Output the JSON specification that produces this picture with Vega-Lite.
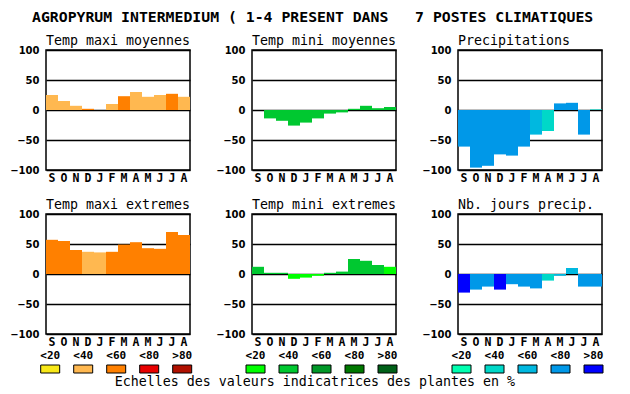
{
"$schema": "https://vega.github.io/schema/vega-lite/v6.json",
"padding": {"left": 8, "top": 10, "right": 5, "bottom": 5},
"background": "white",
"title": {"text": "AGROPYRUM INTERMEDIUM ( 1-4 PRESENT DANS\u00a0\u00a0\u00a07 POSTES CLIMATIQUES", "font": "DejaVu Sans Mono", "fontSize": 14.8, "fontWeight": "bold", "anchor": "start", "frame": "bounds", "dx": 23, "offset": 8},
"datasets": {
"bars": [
{"p":"p1","m":1,"v":25,"c":"<40"},{"p":"p1","m":2,"v":15,"c":"<40"},{"p":"p1","m":3,"v":7,"c":"<40"},{"p":"p1","m":4,"v":2,"c":"<60"},{"p":"p1","m":5,"v":0,"c":"<40"},{"p":"p1","m":6,"v":10,"c":"<40"},{"p":"p1","m":7,"v":23,"c":"<60"},{"p":"p1","m":8,"v":30,"c":"<40"},{"p":"p1","m":9,"v":22,"c":"<40"},{"p":"p1","m":10,"v":25,"c":"<40"},{"p":"p1","m":11,"v":27,"c":"<60"},{"p":"p1","m":12,"v":22,"c":"<40"},
{"p":"p2","m":1,"v":0,"c":"<40"},{"p":"p2","m":2,"v":-14,"c":"<40"},{"p":"p2","m":3,"v":-18,"c":"<40"},{"p":"p2","m":4,"v":-26,"c":"<40"},{"p":"p2","m":5,"v":-21,"c":"<40"},{"p":"p2","m":6,"v":-14,"c":"<40"},{"p":"p2","m":7,"v":-6,"c":"<40"},{"p":"p2","m":8,"v":-4,"c":"<40"},{"p":"p2","m":9,"v":2,"c":"<40"},{"p":"p2","m":10,"v":7,"c":"<40"},{"p":"p2","m":11,"v":3,"c":"<40"},{"p":"p2","m":12,"v":5,"c":"<40"},
{"p":"p3","m":1,"v":-61,"c":"<80"},{"p":"p3","m":2,"v":-96,"c":"<80"},{"p":"p3","m":3,"v":-93,"c":"<80"},{"p":"p3","m":4,"v":-74,"c":"<80"},{"p":"p3","m":5,"v":-76,"c":"<80"},{"p":"p3","m":6,"v":-61,"c":"<80"},{"p":"p3","m":7,"v":-41,"c":"<60"},{"p":"p3","m":8,"v":-35,"c":"<40"},{"p":"p3","m":9,"v":11,"c":"<80"},{"p":"p3","m":10,"v":12,"c":"<80"},{"p":"p3","m":11,"v":-41,"c":"<80"},{"p":"p3","m":12,"v":1,"c":"<40"},
{"p":"p4","m":1,"v":57,"c":"<60"},{"p":"p4","m":2,"v":55,"c":"<60"},{"p":"p4","m":3,"v":40,"c":"<60"},{"p":"p4","m":4,"v":37,"c":"<40"},{"p":"p4","m":5,"v":36,"c":"<40"},{"p":"p4","m":6,"v":37,"c":"<60"},{"p":"p4","m":7,"v":49,"c":"<60"},{"p":"p4","m":8,"v":53,"c":"<60"},{"p":"p4","m":9,"v":43,"c":"<60"},{"p":"p4","m":10,"v":42,"c":"<60"},{"p":"p4","m":11,"v":70,"c":"<60"},{"p":"p4","m":12,"v":65,"c":"<60"},
{"p":"p5","m":1,"v":12,"c":"<40"},{"p":"p5","m":2,"v":2,"c":"<40"},{"p":"p5","m":3,"v":2,"c":"<40"},{"p":"p5","m":4,"v":-8,"c":"<20"},{"p":"p5","m":5,"v":-6,"c":"<20"},{"p":"p5","m":6,"v":-3,"c":"<20"},{"p":"p5","m":7,"v":2,"c":"<40"},{"p":"p5","m":8,"v":4,"c":"<40"},{"p":"p5","m":9,"v":25,"c":"<40"},{"p":"p5","m":10,"v":22,"c":"<40"},{"p":"p5","m":11,"v":15,"c":"<40"},{"p":"p5","m":12,"v":12,"c":"<20"},
{"p":"p6","m":1,"v":-31,"c":">80"},{"p":"p6","m":2,"v":-26,"c":"<80"},{"p":"p6","m":3,"v":-21,"c":"<80"},{"p":"p6","m":4,"v":-26,"c":">80"},{"p":"p6","m":5,"v":-17,"c":"<80"},{"p":"p6","m":6,"v":-21,"c":"<80"},{"p":"p6","m":7,"v":-24,"c":"<80"},{"p":"p6","m":8,"v":-11,"c":"<40"},{"p":"p6","m":9,"v":-3,"c":"<60"},{"p":"p6","m":10,"v":10,"c":"<60"},{"p":"p6","m":11,"v":-21,"c":"<80"},{"p":"p6","m":12,"v":-21,"c":"<80"}
],
"leg": [
{"g":"o","c":"<20"},{"g":"o","c":"<40"},{"g":"o","c":"<60"},{"g":"o","c":"<80"},{"g":"o","c":">80"},
{"g":"g","c":"<20"},{"g":"g","c":"<40"},{"g":"g","c":"<60"},{"g":"g","c":"<80"},{"g":"g","c":">80"},
{"g":"b","c":"<20"},{"g":"b","c":"<40"},{"g":"b","c":"<60"},{"g":"b","c":"<80"},{"g":"b","c":">80"}
]
},
"resolve": {"scale": {"color": "independent", "x": "independent", "y": "independent"}},
"spacing": 11,
"vconcat": [
{"hconcat": [
 {"width":144,"height":120,"title":"Temp maxi moyennes","data":{"name":"bars"},"transform":[{"filter":"datum.p=='p1'"}],"mark":"bar","encoding":{"x":{"field":"m","type":"ordinal","scale":{"paddingInner":0,"paddingOuter":0},"axis":{"labelExpr":"substring('SONDJFMAMJJA',datum.value-1,datum.value)"}},"y":{"field":"v","type":"quantitative","scale":{"domain":[-100,100],"nice":false},"axis":{"values":[-100,-50,0,50,100]}},"color":{"field":"c","type":"nominal","scale":{"domain":["<20","<40","<60","<80",">80"],"range":["#f8e818","#ffb850","#ff8000","#e80000","#b01000"]},"legend":null}}},
 {"width":144,"height":120,"title":"Temp mini moyennes","data":{"name":"bars"},"transform":[{"filter":"datum.p=='p2'"}],"mark":"bar","encoding":{"x":{"field":"m","type":"ordinal","scale":{"paddingInner":0,"paddingOuter":0},"axis":{"labelExpr":"substring('SONDJFMAMJJA',datum.value-1,datum.value)"}},"y":{"field":"v","type":"quantitative","scale":{"domain":[-100,100],"nice":false},"axis":{"values":[-100,-50,0,50,100]}},"color":{"field":"c","type":"nominal","scale":{"domain":["<20","<40","<60","<80",">80"],"range":["#00ff00","#00c830","#009828","#007800","#006018"]},"legend":null}}},
 {"width":144,"height":120,"title":"Precipitations","data":{"name":"bars"},"transform":[{"filter":"datum.p=='p3'"}],"mark":"bar","encoding":{"x":{"field":"m","type":"ordinal","scale":{"paddingInner":0,"paddingOuter":0},"axis":{"labelExpr":"substring('SONDJFMAMJJA',datum.value-1,datum.value)"}},"y":{"field":"v","type":"quantitative","scale":{"domain":[-100,100],"nice":false},"axis":{"values":[-100,-50,0,50,100]}},"color":{"field":"c","type":"nominal","scale":{"domain":["<20","<40","<60","<80",">80"],"range":["#00ffb0","#00d8c8","#00b8e0","#0098e8","#0000ff"]},"legend":null}}}
 ], "spacing": 23, "resolve": {"scale": {"color": "independent", "x": "independent", "y": "independent"}}},
{"vconcat": [
 {"hconcat": [
 {"width":144,"height":120,"title":"Temp maxi extremes","data":{"name":"bars"},"transform":[{"filter":"datum.p=='p4'"}],"mark":"bar","encoding":{"x":{"field":"m","type":"ordinal","scale":{"paddingInner":0,"paddingOuter":0},"axis":{"labelExpr":"substring('SONDJFMAMJJA',datum.value-1,datum.value)"}},"y":{"field":"v","type":"quantitative","scale":{"domain":[-100,100],"nice":false},"axis":{"values":[-100,-50,0,50,100]}},"color":{"field":"c","type":"nominal","scale":{"domain":["<20","<40","<60","<80",">80"],"range":["#f8e818","#ffb850","#ff8000","#e80000","#b01000"]},"legend":null}}},
 {"width":144,"height":120,"title":"Temp mini extremes","data":{"name":"bars"},"transform":[{"filter":"datum.p=='p5'"}],"mark":"bar","encoding":{"x":{"field":"m","type":"ordinal","scale":{"paddingInner":0,"paddingOuter":0},"axis":{"labelExpr":"substring('SONDJFMAMJJA',datum.value-1,datum.value)"}},"y":{"field":"v","type":"quantitative","scale":{"domain":[-100,100],"nice":false},"axis":{"values":[-100,-50,0,50,100]}},"color":{"field":"c","type":"nominal","scale":{"domain":["<20","<40","<60","<80",">80"],"range":["#00ff00","#00c830","#009828","#007800","#006018"]},"legend":null}}},
 {"width":144,"height":120,"title":"Nb. jours precip.","data":{"name":"bars"},"transform":[{"filter":"datum.p=='p6'"}],"mark":"bar","encoding":{"x":{"field":"m","type":"ordinal","scale":{"paddingInner":0,"paddingOuter":0},"axis":{"labelExpr":"substring('SONDJFMAMJJA',datum.value-1,datum.value)"}},"y":{"field":"v","type":"quantitative","scale":{"domain":[-100,100],"nice":false},"axis":{"values":[-100,-50,0,50,100]}},"color":{"field":"c","type":"nominal","scale":{"domain":["<20","<40","<60","<80",">80"],"range":["#00ffb0","#00d8c8","#00b8e0","#0098e8","#0000ff"]},"legend":null}}}
 ], "spacing": 23, "resolve": {"scale": {"color": "independent", "x": "independent", "y": "independent"}}},
 {"hconcat": [
 {"width":152.7,"height":8,"view":{"stroke":null},"data":{"name":"leg"},"transform":[{"filter":"datum.g=='o'"}],"mark":{"type":"bar","width":19,"stroke":"black","strokeWidth":1},"encoding":{"x":{"field":"c","type":"ordinal","scale":{"paddingInner":0,"paddingOuter":0,"range":[-12.3,152.7]},"axis":{"orient":"top","labelPadding":5,"labelFontSize":11}},"color":{"field":"c","type":"nominal","scale":{"domain":["<20","<40","<60","<80",">80"],"range":["#f8e818","#ffb850","#ff8000","#e80000","#b01000"]},"legend":null}}},
 {"hconcat": [
 {"width":165,"height":8,"view":{"stroke":null},"data":{"name":"leg"},"transform":[{"filter":"datum.g=='g'"}],"mark":{"type":"bar","width":19,"stroke":"black","strokeWidth":1},"encoding":{"x":{"field":"c","type":"ordinal","scale":{"paddingInner":0,"paddingOuter":0},"axis":{"orient":"top","labelPadding":5,"labelFontSize":11}},"color":{"field":"c","type":"nominal","scale":{"domain":["<20","<40","<60","<80",">80"],"range":["#00ff00","#00c830","#009828","#007800","#006018"]},"legend":null}}},
 {"width":165,"height":8,"view":{"stroke":null},"data":{"name":"leg"},"transform":[{"filter":"datum.g=='b'"}],"mark":{"type":"bar","width":19,"stroke":"black","strokeWidth":1},"encoding":{"x":{"field":"c","type":"ordinal","scale":{"paddingInner":0,"paddingOuter":0},"axis":{"orient":"top","labelPadding":5,"labelFontSize":11}},"color":{"field":"c","type":"nominal","scale":{"domain":["<20","<40","<60","<80",">80"],"range":["#00ffb0","#00d8c8","#00b8e0","#0098e8","#0000ff"]},"legend":null}}}
 ], "spacing": 41, "resolve": {"scale": {"color": "independent", "x": "independent", "y": "independent"}}}
 ], "spacing": 28, "title": {"text": "Echelles des valeurs indicatrices des plantes en %", "orient": "bottom", "anchor": "middle", "frame": "bounds", "offset": 1, "dx": -10}, "resolve": {"scale": {"color": "independent", "x": "independent", "y": "independent"}}}
], "spacing": 0, "resolve": {"scale": {"color": "independent", "x": "independent", "y": "independent"}}}
],
"config": {
 "view": {"stroke": "black", "strokeWidth": 1.5},
 "title": {"font": "DejaVu Sans Mono", "fontSize": 13.3, "fontWeight": "normal", "anchor": "start", "frame": "group", "color": "black", "offset": -2},
 "axis": {"title": null, "ticks": false, "domain": false, "labelColor": "black", "labelFontWeight": "bold"},
 "axisX": {"labelFont": "DejaVu Sans Mono", "labelFontSize": 11.5, "labelAngle": 0, "labelPadding": 2},
 "axisY": {"labelFont": "DejaVu Sans", "labelFontSize": 10, "labelPadding": 7, "grid": true, "gridColor": "black", "gridOpacity": 1, "gridWidth": 1.5, "zindex": 1}
}
}
